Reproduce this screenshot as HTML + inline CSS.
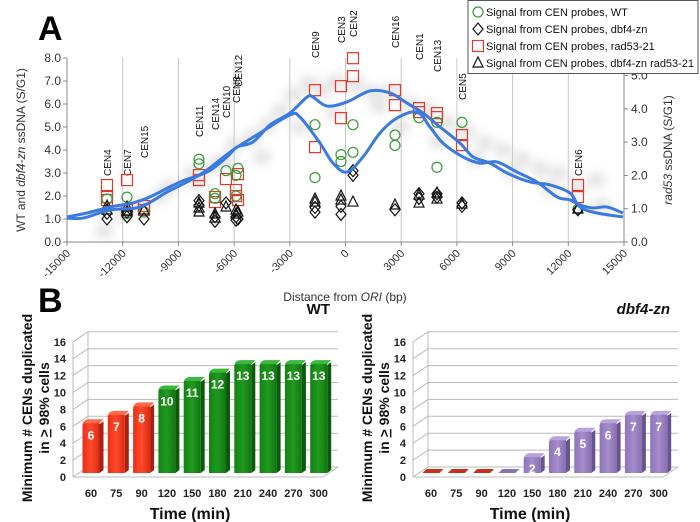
<!DOCTYPE html>
<html><head><meta charset="utf-8">
<style>
html,body{margin:0;padding:0;background:#fff;}
svg{display:block;font-family:"Liberation Sans",sans-serif;}
</style></head>
<body>
<svg id="fig" width="700" height="522" viewBox="0 0 700 522" xmlns="http://www.w3.org/2000/svg">
<defs>
<filter id="blur" x="-50%" y="-50%" width="200%" height="200%"><feGaussianBlur stdDeviation="5"/></filter>
<linearGradient id="gRed" x1="0" x2="1"><stop offset="0" stop-color="#e8301a"/><stop offset="0.5" stop-color="#ff4a2a"/><stop offset="1" stop-color="#d82a14"/></linearGradient>
<linearGradient id="gGreen" x1="0" x2="1"><stop offset="0" stop-color="#138213"/><stop offset="0.5" stop-color="#1f9a1f"/><stop offset="1" stop-color="#127512"/></linearGradient>
<linearGradient id="gPurple" x1="0" x2="1"><stop offset="0" stop-color="#8e74b8"/><stop offset="0.5" stop-color="#a58dcc"/><stop offset="1" stop-color="#8870b0"/></linearGradient>
</defs>
<g id="panelA"></g>
<g id="panelB"></g>
</svg>
<script>
const NS="http://www.w3.org/2000/svg";
// ---------- Panel A data ----------
const xTicks=[-15000,-12000,-9000,-6000,-3000,0,3000,6000,9000,12000,15000];
const yLeftTicks=[0,1,2,3,4,5,6,7,8];
const yRightTicks=[0,1,2,3,4,5];
const cenNames=["CEN4","CEN7","CEN15","CEN11","CEN14","CEN10","CEN8","CEN12","CEN9","CEN3","CEN2","CEN16","CEN1","CEN13","CEN5","CEN6"];
const cenBp=[-12846,-11769,-10853,-7891,-7029,-6437,-5898,-5790,-1643,-243,404,2665,3958,4927,6274,12521];
const cenLabelBase=[176,176,158,137,130,118,103,87,58,43,37,48,60,72,100,176];
const wtCen=[0,1,1,2,3,3,4,4,5,6,6,7,8,8,9,9,10,10,11,11,12,13,13,14,15];
const wtVal=[1.87,1.95,1.25,1.3,3.6,3.4,2.1,1.9,3.1,2.9,2.0,3.2,5.1,2.8,3.8,3.5,5.1,3.9,4.65,4.2,5.4,5.2,3.25,5.2,1.43];
const dbfCen=[0,0,1,1,2,3,3,4,4,5,6,6,7,8,8,9,9,10,10,11,12,12,13,13,14,14,15];
const dbfVal=[1.0,1.25,1.1,1.3,1.0,1.8,1.6,1.1,0.9,1.7,1.1,0.95,1.0,1.5,1.3,1.2,1.55,3.1,2.9,1.4,2.1,1.9,2.1,1.95,1.7,1.55,1.4];
const radCen=[0,0,0,1,1,2,2,3,3,4,4,5,6,6,7,7,8,8,9,9,10,10,11,11,12,12,13,13,14,14,15,15];
const radVal=[1.71,1.35,1.26,1.86,0.96,1.08,0.96,2.01,1.86,1.35,1.2,1.89,1.56,1.38,2.04,1.26,4.56,2.85,4.68,3.72,5.52,4.98,4.56,4.11,4.02,3.9,3.87,3.75,3.21,2.91,1.71,1.35];
const dbRadCen=[0,0,1,1,2,3,3,3,4,4,5,6,6,7,8,8,9,9,10,11,12,12,13,13,14,15];
const dbRadVal=[1.08,0.96,1.05,0.93,0.96,1.17,1.02,0.9,0.84,0.72,1.05,0.96,0.84,0.9,1.29,1.2,1.38,1.26,1.2,1.11,1.41,1.17,1.47,1.29,1.14,0.99];
const line1X=[-15000,-13923,-12684,-11446,-10530,-8914,-7460,-6382,-5844,-4982,-4066,-2989,-2074,-1750,-996,81,1320,2397,3312,4174,5090,6167,6867,7783,8698,9937,11014,12091,12630,13545,14946];
const line1V=[1.09,1.26,1.52,1.70,1.96,2.61,3.04,3.70,4.13,4.35,5.09,5.61,6.30,6.30,5.91,6.09,6.57,6.48,6.04,5.61,5.00,4.30,3.70,3.43,3.00,2.61,2.48,2.13,1.52,1.26,1.09];
const line2X=[-15000,-14138,-12684,-11068,-9614,-8537,-7460,-6059,-4605,-2989,-2451,-1374,-674,81,942,1858,2774,3851,4551,5251,6328,7244,8159,9236,10313,11390,12091,12630,13330,14084,14946];
const line2V=[1.04,1.04,1.39,1.52,2.17,2.61,3.13,4.00,4.74,5.52,5.43,4.30,3.43,3.04,3.70,4.74,5.39,5.65,5.00,4.30,3.70,3.43,3.48,3.04,2.61,1.96,1.83,1.61,1.48,1.52,1.26];
const cloudX=[-13000,-11000,-9500,-8200,-7000,-6000,-5000,-4200,-3500,-2800,-2000,-1200,-500,600,1500,2500,3500,4500,5500,6500,7500,8500,9500,10500,11500,12500,13500,-4500,-2500,-600,1800,3000,5000,7000,9000,11000,-8000,-6500,-10000,-12000,13800];
const cloudV=[0.5,1.6,2.4,3.0,3.4,4.2,4.6,5.1,5.7,6.4,6.9,6.6,7.0,6.8,6.5,6.6,6.0,5.7,5.2,4.8,4.3,4.0,3.6,3.2,3.0,2.4,2.7,3.7,5.0,5.6,5.9,5.0,4.4,3.6,3.0,2.3,2.6,3.5,2.0,1.2,1.6];

// ---------- Panel B data ----------
const timeLabels=["60","75","90","120","150","180","210","240","270","300"];
const wtCounts=[6,7,8,10,11,12,13,13,13,13];
const wtGroups=["r","r","r","g","g","g","g","g","g","g"];
const dbfCounts=[0,0,0,0,2,4,5,6,7,7];
const dbfGroups=["r","r","r","p","p","p","p","p","p","p"];
const bTicks=[0,2,4,6,8,10,12,14,16];

function el(tag,attrs,parent,text){const e=document.createElementNS(NS,tag);for(const k in attrs)e.setAttribute(k,attrs[k]);if(text!==undefined)e.textContent=text;parent.appendChild(e);return e;}

const AX0=67,AX1=624,AY0=242,AYT=58;
function xA(bp){return AX0+(bp+15000)/30000*(AX1-AX0);}
function yL(v){return AY0-v*(AY0-AYT)/8;}
function yR(v){return AY0-v*33.3;}

const A=document.getElementById('panelA');
const cloud=el('g',{filter:'url(#blur)',opacity:'0.35'},A);


cloudX.forEach((x,i)=>{el('ellipse',{cx:xA(x),cy:yL(cloudV[i]),rx:9,ry:7,fill:'#a8a8a8'},cloud);});
xTicks.forEach((t,i)=>{
  if(i>0&&i<xTicks.length-1){const g=el('line',{x1:xA(t),x2:xA(t),y1:AYT,y2:AY0,stroke:'#c8c8c8','stroke-width':1},A);
  }
  el('line',{x1:xA(t),x2:xA(t),y1:AY0,y2:AY0+4,stroke:'#888'},A);
  const lb=el('text',{x:xA(t)+4,y:AY0+12,'font-size':11,fill:'#333','text-anchor':'end',transform:`rotate(-45 ${xA(t)+4} ${AY0+12})`},A,String(t));
  
});
el('line',{x1:AX0,x2:AX1,y1:AY0,y2:AY0,stroke:'#888'},A);
el('line',{x1:AX0,x2:AX0,y1:AYT,y2:AY0,stroke:'#888'},A);
el('line',{x1:AX1,x2:AX1,y1:AYT,y2:AY0,stroke:'#888'},A);
yLeftTicks.forEach(t=>{el('line',{x1:AX0-4,x2:AX0,y1:yL(t),y2:yL(t),stroke:'#888'},A);
  const l=el('text',{x:AX0-6,y:yL(t)+4,'font-size':12,fill:'#333','text-anchor':'end'},A,t.toFixed(1));
  });
yRightTicks.forEach(t=>{el('line',{x1:AX1,x2:AX1+4,y1:yR(t),y2:yR(t),stroke:'#888'},A);
  const l=el('text',{x:AX1+7,y:yR(t)+4,'font-size':12,fill:'#333'},A,t.toFixed(1));
  });
const yt=el('text',{x:0,y:0,'font-size':12,fill:'#333','text-anchor':'middle',transform:'translate(25 150) rotate(-90)'},A);

yt.innerHTML='WT and <tspan font-style="italic">dbf4-zn</tspan>  ssDNA (S/G1)';
const yrt=el('text',{x:0,y:0,'font-size':12,fill:'#333','text-anchor':'middle',transform:'translate(672 150) rotate(-90)'},A);

yrt.innerHTML='<tspan font-style="italic">rad53</tspan> ssDNA (S/G1)';
const xt=el('text',{x:345,y:301,'font-size':12,fill:'#333','text-anchor':'middle'},A);

xt.innerHTML='Distance from <tspan font-style="italic">ORI</tspan> (bp)';
const la=el('text',{x:38,y:40,'font-size':34,'font-weight':'bold',fill:'#000'},A,'A');

cenNames.forEach((n,i)=>{const x=xA(cenBp[i])+4,y=cenLabelBase[i];
  const t=el('text',{x:x,y:y,'font-size':10,fill:'#111',transform:`rotate(-90 ${x} ${y})`},A,n);
  });
function smooth(xs,vs){const p=xs.map((x,i)=>[xA(x),yL(vs[i])]);let d=`M${p[0][0]},${p[0][1]}`;
  for(let i=0;i<p.length-1;i++){const p0=p[Math.max(0,i-1)],p1=p[i],p2=p[i+1],p3=p[Math.min(p.length-1,i+2)];
  d+=` C${p1[0]+(p2[0]-p0[0])/6},${p1[1]+(p2[1]-p0[1])/6} ${p2[0]-(p3[0]-p1[0])/6},${p2[1]-(p3[1]-p1[1])/6} ${p2[0]},${p2[1]}`;}return d;}
function marker(kind,x,y,parent){let m;
  if(kind==='c')m=el('circle',{cx:x,cy:y,r:5,fill:'none',stroke:'#3a9a3a','stroke-width':1.2},parent);
  else if(kind==='d')m=el('path',{d:`M${x},${y-6}L${x+5},${y}L${x},${y+6}L${x-5},${y}Z`,fill:'none',stroke:'#111','stroke-width':1.2},parent);
  else if(kind==='s')m=el('rect',{x:x-5.5,y:y-5.5,width:11,height:11,fill:'none',stroke:'#e0392c','stroke-width':1.2},parent);
  else m=el('path',{d:`M${x},${y-6}L${x+5},${y+4}L${x-5},${y+4}Z`,fill:'none',stroke:'#111','stroke-width':1.2},parent);
  return m;}
const gRad=el('g',{},A);
radCen.forEach((c,i)=>{const m=marker('s',xA(cenBp[c]),yR(radVal[i]),gRad);});
const gWt=el('g',{},A);
wtCen.forEach((c,i)=>{const m=marker('c',xA(cenBp[c]),yL(wtVal[i]),gWt);});
const gDb=el('g',{},A);
dbfCen.forEach((c,i)=>{const m=marker('d',xA(cenBp[c]),yL(dbfVal[i]),gDb);});
const gDr=el('g',{},A);
dbRadCen.forEach((c,i)=>{const m=marker('t',xA(cenBp[c]),yR(dbRadVal[i]),gDr);});
const l1=el('path',{d:smooth(line1X,line1V),fill:'none',stroke:'#3b7be0','stroke-width':3},A);

const l2=el('path',{d:smooth(line2X,line2V),fill:'none',stroke:'#3b7be0','stroke-width':3},A);

const lg=el('g',{},A);
el('rect',{x:468,y:0.5,width:230,height:73,fill:'#fff',stroke:'#555'},lg);
const legTexts=["Signal from CEN probes, WT","Signal from CEN probes, dbf4-zn","Signal from CEN probes, rad53-21","Signal from CEN probes, dbf4-zn rad53-21"];
const legKinds=['c','d','s','t'];
legTexts.forEach((t,i)=>{const y=12+i*17;const e=el('g',{},lg);
  marker(legKinds[i],478,y,e);el('text',{x:486,y:y+4,'font-size':11,fill:'#111',textLength:t.length>32?208:undefined||'', 'lengthAdjust':'spacingAndGlyphs'},e,t);});
// clean empty textLength
lg.querySelectorAll('text').forEach(t=>{if(!t.getAttribute('textLength'))t.removeAttribute('textLength');});

// ---------- Panel B ----------
const B=document.getElementById('panelB');
const lb=el('text',{x:38,y:312,'font-size':34,'font-weight':'bold',fill:'#000'},B,'B');

const fills={r:'url(#gRed)',g:'url(#gGreen)',p:'url(#gPurple)'};
const sides={r:'#a8200e',g:'#0b5a0b',p:'#6a5490'};
const tops={r:'#ff6a4a',g:'#3cb83c',p:'#b9a3dc'};
function barChart(ox,counts,groups,title,italic,name){
  const g=el('g',{},B);
  const base=477,unit=8.45,dx=15,dy=10,x0=ox+73,x1=ox+338;
  const yB=v=>base-v*unit;
  bTicks.forEach(t=>{const y=yB(t);
    el('polyline',{points:`${x0},${y} ${x0+dx},${y-dy} ${x1},${y-dy}`,fill:'none',stroke:'#bbb','stroke-width':1},g);
    const tl=el('text',{x:x0-7,y:y+4,'font-size':11,'font-weight':'bold',fill:'#222','text-anchor':'end'},g,String(t));
    });
  el('line',{x1:x0+dx,x2:x0+dx,y1:yB(16)-dy,y2:base-dy,stroke:'#bbb'},g);
  el('line',{x1:x0,x2:x0,y1:yB(16),y2:base,stroke:'#bbb'},g);
  el('polyline',{points:`${x0},${base} ${x1-dx},${base} ${x1},${base-dy}`,fill:'none',stroke:'#bbb'},g);
  counts.forEach((v,i)=>{const cx=ox+91+i*25.3,w=17,top=base-4-v*unit,bx=cx-w/2,bot=base-4,gp=groups[i];
    const bar=el('g',{},g);
    if(v>0){
      el('path',{d:`M${bx+w},${top+2} L${bx+w+4},${top-1} L${bx+w+4},${bot-3} L${bx+w},${bot} Z`,fill:sides[gp]},bar);
      el('path',{d:`M${bx},${bot} L${bx},${top+3} Q${bx},${top} ${bx+4},${top} L${bx+w},${top} L${bx+w},${bot} Z`,fill:fills[gp]},bar);
      el('path',{d:`M${bx},${top+1} Q${bx+2},${top-3} ${bx+6},${top-3} L${bx+w+4},${top-3} L${bx+w},${top+1} Z`,fill:tops[gp]},bar);
      el('text',{x:cx,y:top+17,'font-size':12,'font-weight':'bold',fill:'#fff','text-anchor':'middle'},bar,String(v));
    } else {
      el('path',{d:`M${bx},${bot} L${bx+4},${bot-4} L${bx+w+4},${bot-4} L${bx+w},${bot} Z`,fill:gp==='r'?'#c8301c':'#8a74b0'},bar);
    }
    const tl=el('text',{x:cx,y:497,'font-size':11,'font-weight':'bold',fill:'#222','text-anchor':'middle'},g,timeLabels[i]);
    
  });
  const xt=el('text',{x:ox+190,y:519,'font-size':16,'font-weight':'bold',fill:'#111','text-anchor':'middle'},g,'Time (min)');
  
  const yt=el('text',{x:0,y:0,'font-size':14,'font-weight':'bold',fill:'#111','text-anchor':'middle',transform:`translate(${ox+32} 408) rotate(-90)`},g);
  
  yt.innerHTML=`<tspan x="0" dy="0">Minimum # CENs duplicated</tspan><tspan x="0" dy="17">in <tspan text-decoration="underline">&gt;</tspan> 98% cells</tspan>`;
  const tt=el('text',{x:ox+330,y:314,'font-size':15,'font-weight':'bold','font-style':italic?'italic':'normal',fill:'#111','text-anchor':'end'},g,title);
  
}
barChart(0,wtCounts,wtGroups,'WT',false,'wt-bar-chart');
barChart(340,dbfCounts,dbfGroups,'dbf4-zn',true,'dbf4-zn-bar-chart');
</script>
</body></html>
